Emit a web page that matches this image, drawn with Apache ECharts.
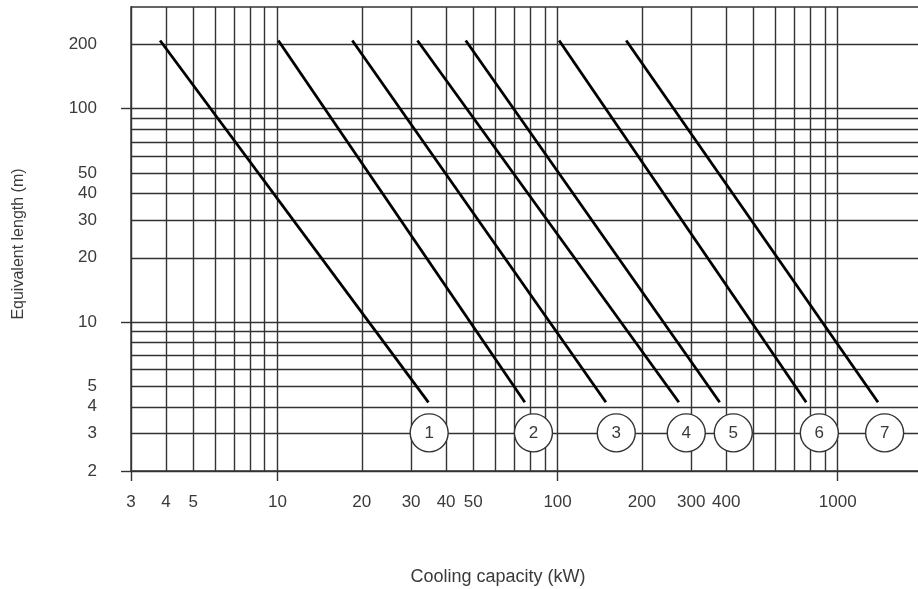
<!DOCTYPE html>
<html>
<head>
<meta charset="utf-8">
<script src="https://cdn.jsdelivr.net/npm/echarts@6/dist/echarts.min.js"></script>
<style>
  html, body { margin: 0; padding: 0; background: #fff; }
  #chart { width: 918px; height: 589px; }
</style>
</head>
<body>
<div id="chart"></div>
<script>
// ---- data ----
const xTickLabels = [3, 4, 5, 10, 20, 30, 40, 50, 100, 200, 300, 400, 1000];
const yTickLabels = [2, 3, 4, 5, 10, 20, 30, 40, 50, 100, 200];
const xMajorTicks = [3, 10, 100, 1000];
const yMajorTicks = [2, 10, 100];
const xGridValues = [4, 5, 6, 7, 8, 9, 10, 20, 30, 40, 50, 60, 70, 80, 90, 100,
                     200, 300, 400, 500, 600, 700, 800, 900, 1000];
const yGridValues = [3, 4, 5, 6, 7, 8, 9, 10, 20, 30, 40, 50, 60, 70, 80, 90, 100, 200];
const xRange = [3, 2000];
const yRange = [2, 300];

// each curve: [capacity at top, length at top], [capacity at bottom, length at bottom]
const curve1 = [[3.81, 209], [34.6, 4.2]];
const curve2 = [[10.07, 209], [76.4, 4.2]];
const curve3 = [[18.5, 209], [148.8, 4.2]];
const curve4 = [[31.6, 209], [271, 4.2]];
const curve5 = [[47, 209], [379, 4.2]];
const curve6 = [[101.3, 209], [772, 4.2]];
const curve7 = [[175.8, 209], [1393, 4.2]];
const curves = [curve1, curve2, curve3, curve4, curve5, curve6, curve7];

const circleLabels = ['1', '2', '3', '4', '5', '6', '7'];
const circleX = [34.8, 82, 162, 288, 424, 860, 1471];
const circleY = [3.02, 3.02, 3.02, 3.02, 3.02, 3.02, 3.02];

const xTitle = 'Cooling capacity (kW)';
const yTitle = 'Equivalent length (m)';

// ---- chart ----
const FONT = '"Liberation Sans", Arial, Helvetica, sans-serif';
const GRID_COLOR = '#333';
const TEXT_COLOR = '#3a3a3a';
const chart = echarts.init(document.getElementById('chart'), null, { renderer: 'canvas' });

const series = [];
series.push({
  type: 'lines',
  coordinateSystem: 'cartesian2d',
  silent: true,
  z: 1,
  lineStyle: { color: GRID_COLOR, width: 1.4, opacity: 1 },
  data: xGridValues.map(v => ({ coords: [[v, yRange[0]], [v, yRange[1]]] }))
});
series.push({
  type: 'lines',
  coordinateSystem: 'cartesian2d',
  silent: true,
  z: 1,
  lineStyle: { color: GRID_COLOR, width: 1.4, opacity: 1 },
  data: yGridValues.map(v => ({ coords: [[xRange[0], v], [xRange[1], v]] }))
});
curves.forEach((c, i) => {
  series.push({
    type: 'line',
    name: 'curve' + (i + 1),
    data: c,
    symbol: 'none',
    silent: true,
    z: 3,
    lineStyle: { color: '#000', width: 2.8 }
  });
});
series.push({
  type: 'scatter',
  data: circleX.map((x, i) => [x, circleY[i], circleLabels[i]]),
  symbol: 'circle',
  symbolSize: 38,
  silent: true,
  z: 4,
  itemStyle: { color: '#fff', borderColor: '#333', borderWidth: 1.4, opacity: 1 },
  label: {
    show: true,
    position: 'inside',
    formatter: p => p.data[2],
    color: TEXT_COLOR,
    fontSize: 17,
    fontFamily: FONT
  }
});

const option = {
  animation: false,
  backgroundColor: '#fff',
  grid: {
    left: 131, right: -4, top: 7, bottom: 118,
    show: true, borderColor: GRID_COLOR, borderWidth: 1.4,
    containLabel: false, outerBoundsMode: 'none'
  },
  xAxis: {
    type: 'log',
    logBase: 10,
    min: xRange[0],
    max: xRange[1],
    axisLine: { show: true, lineStyle: { color: GRID_COLOR, width: 1.4 } },
    axisTick: { show: true, length: 10, inside: false, customValues: xMajorTicks,
                lineStyle: { color: GRID_COLOR, width: 1.4 } },
    axisLabel: {
      show: true, customValues: xTickLabels, margin: 23,
      formatter: v => String(Math.round(v)),
      color: TEXT_COLOR, fontSize: 17, fontFamily: FONT,
      showMinLabel: true, showMaxLabel: true
    },
    splitLine: { show: false },
    minorTick: { show: false },
    minorSplitLine: { show: false }
  },
  yAxis: {
    type: 'log',
    logBase: 10,
    min: yRange[0],
    max: yRange[1],
    axisLine: { show: true, lineStyle: { color: GRID_COLOR, width: 1.4 } },
    axisTick: { show: true, length: 10, inside: false, customValues: yMajorTicks,
                lineStyle: { color: GRID_COLOR, width: 1.4 } },
    axisLabel: {
      show: true, customValues: yTickLabels, margin: 34,
      formatter: v => String(Math.round(v)),
      color: TEXT_COLOR, fontSize: 17, fontFamily: FONT,
      showMinLabel: true, showMaxLabel: true
    },
    splitLine: { show: false },
    minorTick: { show: false },
    minorSplitLine: { show: false }
  },
  graphic: [
    {
      type: 'text', x: 498, y: 577, silent: true,
      style: { text: xTitle, fill: TEXT_COLOR, font: '18px ' + FONT, align: 'center', verticalAlign: 'middle' }
    },
    {
      type: 'text', x: 19, y: 244, rotation: Math.PI / 2, silent: true,
      style: { text: yTitle, fill: TEXT_COLOR, font: '16px ' + FONT, align: 'center', verticalAlign: 'middle' }
    }
  ],
  series: series
};
chart.setOption(option);
</script>
</body>
</html>
